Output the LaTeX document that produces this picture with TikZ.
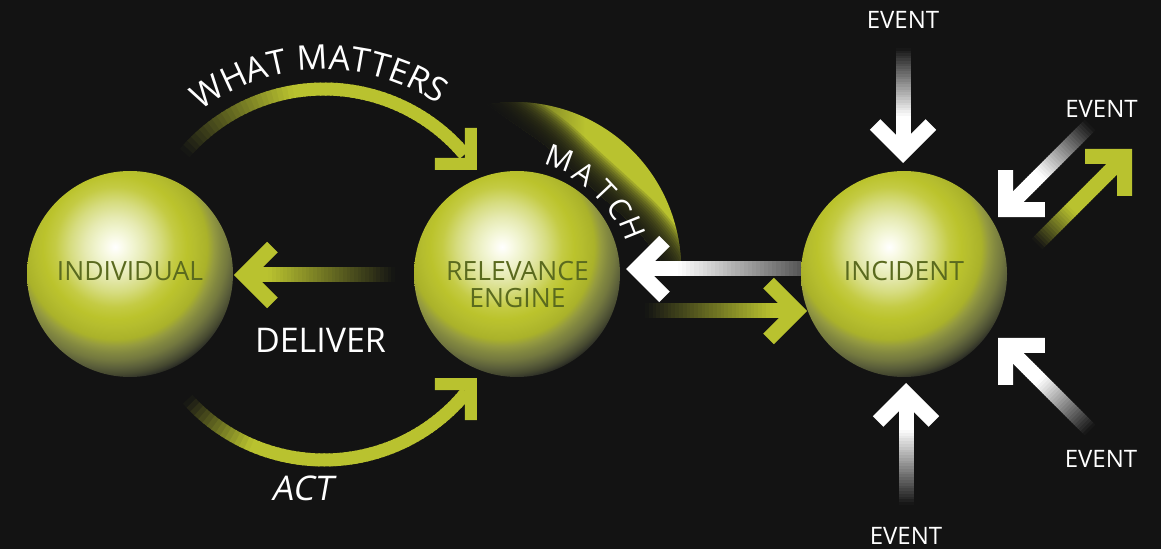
\documentclass[tikz,border=0pt]{standalone}
\usepackage{fontspec}
\setmainfont{Open Sans}
\newfontfamily\slantfont{Open Sans}[FakeSlant=0.18]
\usetikzlibrary{calc,decorations.text}
\definecolor{bg}{HTML}{131313}
\definecolor{olv}{HTML}{B9C22F}
\definecolor{lbl}{HTML}{5A6A1E}
\colorlet{gry}{white!28!bg}
\definecolor{sa}{HTML}{FAFBEA}
\definecolor{sb}{HTML}{EFF3CC}
\definecolor{sc}{HTML}{E6EAB2}
\definecolor{sd}{HTML}{D6DC80}
\definecolor{se}{HTML}{C4CB44}
\definecolor{sf}{HTML}{BBC32C}
\definecolor{sg}{HTML}{B5BD2E}
\definecolor{sh}{HTML}{AAB22A}
\definecolor{si}{HTML}{959B40}
\definecolor{sj}{HTML}{828840}
\definecolor{sk}{HTML}{73783F}
\definecolor{sl}{HTML}{5A5E3A}
\definecolor{sm}{HTML}{464930}
\definecolor{sn}{HTML}{34362A}
\definecolor{so}{HTML}{1F201A}
% concentric shading; 25bp = 140pt from the highlight
\pgfdeclareradialshading{sphere}{\pgfpointorigin}{%
  color(0bp)=(white); color(1.43bp)=(sa); color(3.57bp)=(sb); color(5.36bp)=(sc);
  color(8.04bp)=(sd); color(10.71bp)=(se); color(12.86bp)=(sf); color(14.29bp)=(sg);
  color(16.43bp)=(sh); color(17.68bp)=(si); color(18.93bp)=(sj); color(20.18bp)=(sk);
  color(21.61bp)=(sl); color(22.68bp)=(sm); color(23.39bp)=(sn); color(24.1bp)=(so);
  color(25bp)=(bg); color(50bp)=(bg)}
% gradient stroke along a straight line
\newcommand\gline[7]{%
  \foreach \i in {0,...,39}{%
    \pgfmathsetmacro\fa{\i/40}%
    \pgfmathsetmacro\fb{min(1,(\i+1.3)/40)}%
    \pgfmathsetmacro\mm{max(0,min(100,((\i+0.5)*2.5-#6)/(#7-#6)*100))}%
    \colorlet{gtmp}{#5!\mm!#4}%
    \draw[gtmp, line width=#3] ($(#1)!\fa!(#2)$) -- ($(#1)!\fb!(#2)$);
  }}
% gradient stroke along an arc
\newcommand\garc[9]{%
  \foreach \i in {0,...,59}{%
    \pgfmathsetmacro\ta{#3+(#4-#3)*\i/60}%
    \pgfmathsetmacro\tb{#3+(#4-#3)*min(60,\i+1.3)/60}%
    \pgfmathsetmacro\mm{max(0,min(100,((\i+0.5)*100/60-#8)/(#9-#8)*100))}%
    \colorlet{gtmp}{#7!\mm!#6}%
    \draw[gtmp, line width=#5] ($(#1)+(\ta:#2)$) arc[start angle=\ta, end angle=\tb, radius=#2];
  }}
\tikzset{
  sph/.style={circle, minimum size=206pt, inner sep=0pt,
    path picture={\shade[shading=sphere] ($(path picture bounding box.center)+(-15,27)$) circle[radius=140];}},
  sphlbl/.style={text=lbl, font=\fontsize{26.5}{27}\selectfont, align=center, inner sep=0pt},
  evt/.style={text=white, font=\fontsize{24}{24}\selectfont, inner sep=0pt},
  biglbl/.style={text=white, font=\fontsize{34}{34}\selectfont, inner sep=0pt},
  matchl/.style={text=white, inner sep=0pt, font=\fontsize{30}{30}\selectfont},
  pics/chevS/.style={code={\draw[line width=15pt, line join=miter] (-38.5,27.9) -- (-10.6,0) -- (-38.5,-27.9);}},
  pics/chevA/.style={code={\draw[line width=12pt, line join=miter] (-34,25.5) -- (-8.5,0) -- (-34,-25.5);}},
}
\begin{document}
\begin{tikzpicture}[x=1pt,y=1pt]
\fill[bg] (0,0) rectangle (1161,549);
\useasboundingbox (0,0) rectangle (1161,549);

% spheres
\node[sph] (ind) at (130,275) {};
\node[sph] (rel) at (517,275) {};
\node[sph] (inc) at (904,275) {};
\node[sphlbl] (indl) at ($(ind)+(0,2.5)$) {INDIVIDUAL};
\node[sphlbl] (rell) at ($(rel)+(0.5,-10.5)$) {RELEVANCE\\ENGINE};
\node[sphlbl] (incl) at ($(inc)+(0,3)$) {INCIDENT};

% event labels
\node[evt] (evT) at (903,529) {EVENT};
\node[evt] (evR1) at (1101.5,440.5) {EVENT};
\node[evt] (evR2) at (1101,90.5) {EVENT};
\node[evt] (evB) at (906,13) {EVENT};

% coordinates
\coordinate (c1) at ($(ind)!0.5!(rel)+(0.5,1.5)$);
\coordinate (c2) at ($(ind)!0.5!(rel)+(0.5,-2.5)$);
\coordinate (wmTip) at (477,379);
\coordinate (actTip) at (477,171);
\coordinate (dTip) at (234,274);
\coordinate (dA) at (246,274);
\coordinate (dB) at (395,274);
\coordinate (wTip) at (626,280);
\coordinate (wA) at (637,280);
\coordinate (wB) at (801,280);
\coordinate (oTip) at (807,238);
\coordinate (oA) at (645,238);
\coordinate (oB) at (796,238);
\coordinate (etTip) at (903,386);
\coordinate (etA) at (903,501);
\coordinate (etB) at (903,397);
\coordinate (ebTip) at (906,166);
\coordinate (ebA) at (906,44);
\coordinate (ebB) at (906,155);
\coordinate (e1Tip) at (998,332);
\coordinate (e1A) at (1090,424);
\coordinate (e1B) at (1006,340);
\coordinate (e2Tip) at (1132,400);
\coordinate (e2A) at (1037,305);
\coordinate (e2B) at (1124,392);
\coordinate (e3Tip) at (998,211);
\coordinate (e3A) at (1090,119);
\coordinate (e3B) at (1006,203);

% MATCH wedge
\begin{scope}
  \clip (487,444.6) arc[start angle=99.7, end angle=2.1, radius=166]
     -- plot[smooth, tension=0.6] coordinates {(662,287) (637,319) (613,342) (580,372) (547,402) (513,426) (487,444.6)} -- cycle;
  \shade[left color=olv!20!bg, right color=olv, middle color=olv] (480,280) rectangle (690,450);
  \foreach \w in {4,8,...,64}
    \draw[bg, opacity=0.15, line width=\w pt] plot[smooth, tension=0.6] coordinates {(670,268) (662,287) (637,319) (613,342) (580,372) (547,402) (513,426) (480,448)};
\end{scope}

% curved connectors
\garc{c1}{183.5}{139.4}{40}{13pt}{bg}{olv}{0}{40}
\garc{c2}{183.5}{222}{321}{13pt}{bg}{olv}{0}{25}
\pic[olv, rotate=-45] at (wmTip) {chevA};
\pic[olv, rotate=45] at (actTip) {chevA};

% straight connectors
\gline{dB}{dA}{15pt}{bg}{olv}{0}{85}
\pic[olv, rotate=180] at (dTip) {chevS};
\gline{wB}{wA}{15pt}{gry}{white}{0}{75}
\pic[white, rotate=180] at (wTip) {chevS};
\gline{oA}{oB}{15pt}{bg}{olv}{0}{85}
\pic[olv] at (oTip) {chevS};

% event connectors
\gline{etA}{etB}{15pt}{bg}{white}{0}{66}
\pic[white, rotate=-90] at (etTip) {chevS};
\gline{ebA}{ebB}{15pt}{bg}{white}{0}{68}
\pic[white, rotate=90] at (ebTip) {chevS};
\gline{e1A}{e1B}{15pt}{bg}{white}{0}{60}
\pic[white, rotate=225] at (e1Tip) {chevS};
\gline{e2A}{e2B}{15pt}{bg}{olv}{0}{40}
\pic[olv, rotate=45] at (e2Tip) {chevS};
\gline{e3A}{e3B}{15pt}{bg}{white}{0}{60}
\pic[white, rotate=135] at (e3Tip) {chevS};

% texts
\path[decorate, decoration={text along path, text align=center, text color=white,
   text={|\fontsize{34}{34}\selectfont|WHAT MATTERS}}]
   ($(c1)+(136.5:203)$) arc[start angle=136.5, end angle=46.5, radius=203];
\node[matchl, rotate=-20.2] (m1) at ($(rel)+(69.8:123)$) {M};
\node[matchl, rotate=-33.7] (m2) at ($(rel)+(56.3:121)$) {A};
\node[matchl, rotate=-46.7] (m3) at ($(rel)+(43.3:121)$) {T};
\node[matchl, rotate=-57.4] (m4) at ($(rel)+(32.6:122)$) {C};
\node[matchl, rotate=-68.3] (m5) at ($(rel)+(21.7:124)$) {H};
\node[biglbl] (deliver) at (320.5,209) {DELIVER};
\node[biglbl, font=\fontsize{34}{34}\slantfont] (act) at (302,60.5) {ACT};
\end{tikzpicture}
\end{document}
